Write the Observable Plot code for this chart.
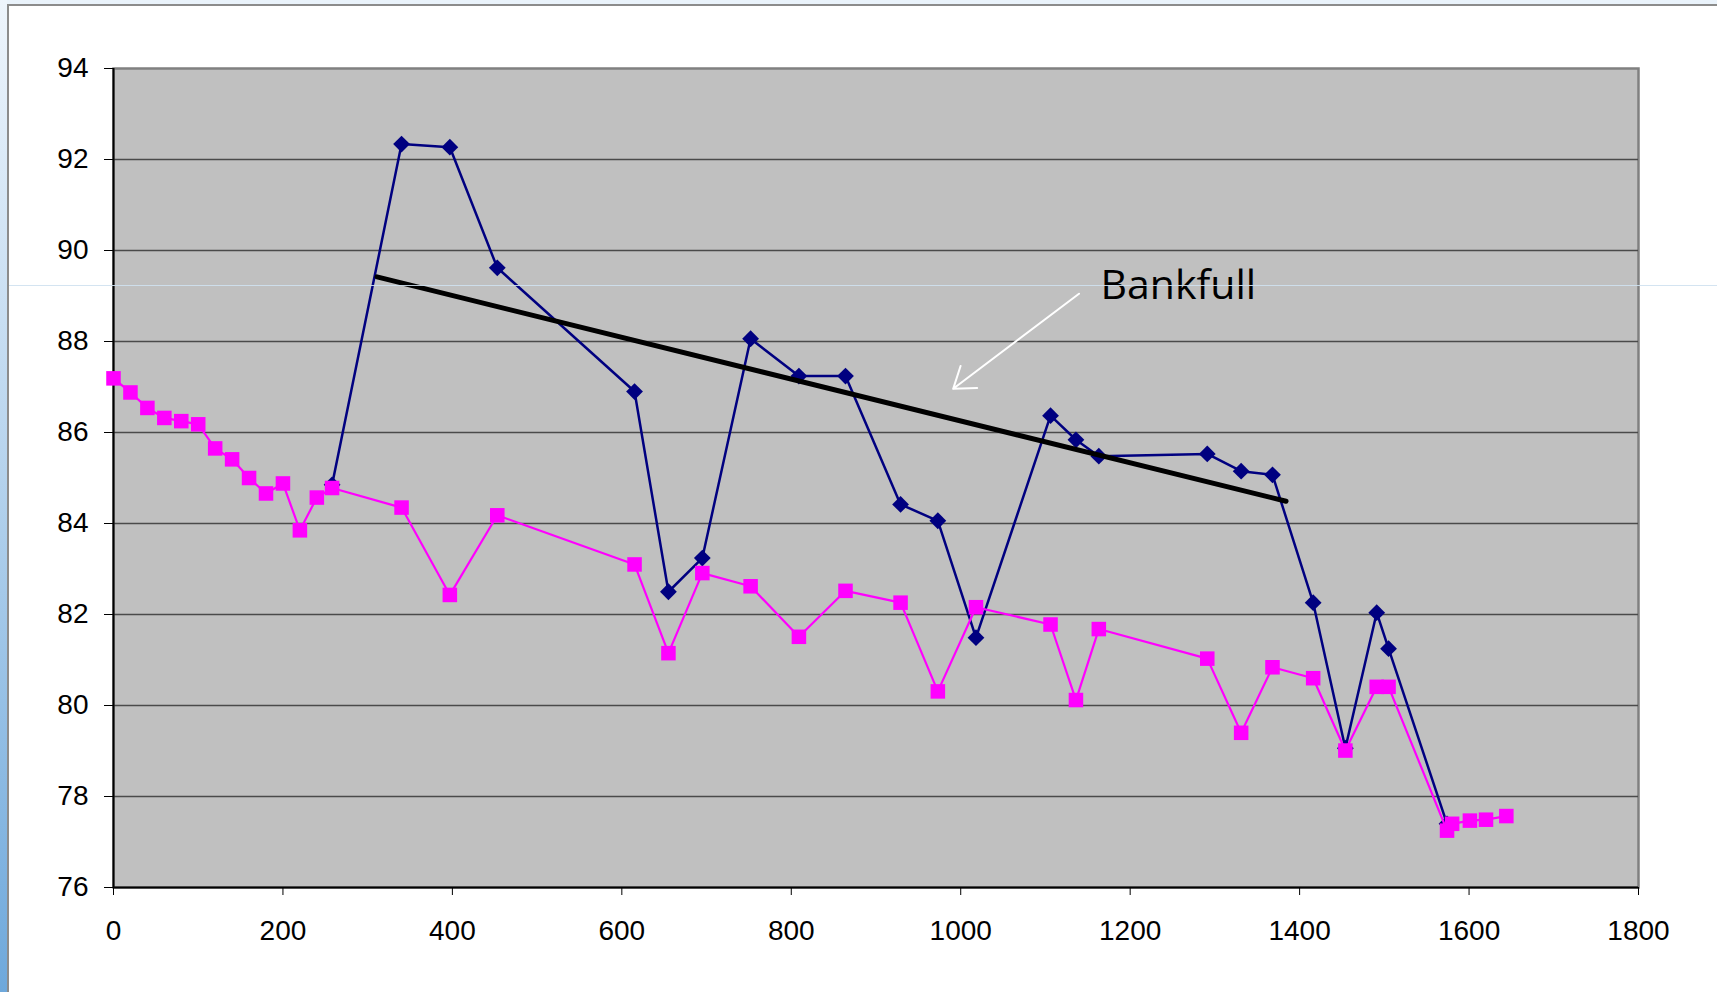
<!DOCTYPE html>
<html>
<head>
<meta charset="utf-8">
<script src="https://cdn.jsdelivr.net/npm/d3@7"></script>
<script src="https://cdn.jsdelivr.net/npm/@observablehq/plot@0.6"></script>
<style>
  html, body { margin: 0; padding: 0; background: #ffffff; overflow: hidden; }
  #wrap { position: relative; width: 1717px; height: 992px; }
  #chart { position: absolute; left: 0; top: 0; }
  .decor { position: absolute; pointer-events: none; }
</style>
</head>
<body>
<div id="wrap">
  <div id="chart"></div>
  <div class="decor" style="left:0;top:0;width:1717px;height:5px;background:#eaf3fb;"></div>
  <div class="decor" style="left:7px;top:4px;width:1710px;height:2px;background:#8c8c8c;"></div>
  <div class="decor" style="left:0;top:0;width:7px;height:992px;background:linear-gradient(to bottom,#eef5fc 0%,#b9d5ee 45%,#6ea8db 100%);"></div>
  <div class="decor" style="left:7px;top:4px;width:2px;height:988px;background:#8c8c8c;"></div>
  <div class="decor" style="left:9px;top:285px;width:1708px;height:1px;background:#cfe1ef;opacity:0.9;"></div>
</div>
<script>
// Stream profile data (station in ft, elevation in ft)
const stationBed = [0,20,40,60,80,100,120,140,160,180,200,220,240,258,340,397,453,615,655,695,752,809,864,929,973,1018,1106,1136,1163,1291,1331,1368,1416,1454,1491,1505,1574,1580,1601,1620,1644];
const elevBed = [87.19,86.88,86.54,86.32,86.25,86.18,85.65,85.41,85.0,84.66,84.88,83.85,84.57,84.78,84.35,82.43,84.18,83.1,81.15,82.91,82.62,81.51,82.52,82.26,80.31,82.16,81.78,80.12,81.68,81.03,79.4,80.84,80.6,79.01,80.41,80.41,77.25,77.4,77.47,77.49,77.57];

const stationBank = [258,340,397,453,615,655,695,752,809,864,929,973,1018,1106,1136,1163,1291,1331,1368,1416,1454,1491,1505,1574];
const elevBank = [84.85,92.34,92.27,89.62,86.9,82.5,83.24,88.06,87.24,87.24,84.42,84.06,81.49,86.37,85.84,85.48,85.53,85.15,85.07,82.26,79.06,82.04,81.25,77.4];

const bankfullStation = [311, 1384];
const bankfullElev = [89.42, 84.49];

const arrowFrom = [1139.6, 89.05];
const arrowTo = [991.1, 86.96];
const labelText = "Bankfull";
const labelPos = [1165, 89.22];

const xTicks = [0,200,400,600,800,1000,1200,1400,1600,1800];
const yTicks = [76,78,80,82,84,86,88,90,92,94];
const gridLevels = [78,80,82,84,86,88,90,92];

const bed = stationBed.map((s, i) => ({x: s, y: elevBed[i]}));
const bank = stationBank.map((s, i) => ({x: s, y: elevBank[i]}));
const bankfull = bankfullStation.map((s, i) => ({x: s, y: bankfullElev[i]}));

const diamond = {
  draw(ctx, size) {
    const r = Math.sqrt(size / 2);
    ctx.moveTo(0, -r); ctx.lineTo(r, 0); ctx.lineTo(0, r); ctx.lineTo(-r, 0); ctx.closePath();
  }
};

const chart = Plot.plot({
  width: 1717,
  height: 992,
  marginLeft: 113,
  marginRight: 79,
  marginTop: 68,
  marginBottom: 105,
  style: {background: "transparent", fontFamily: "'Liberation Sans', Arial, sans-serif", fontSize: "28px", color: "black"},
  x: {domain: [0, 1800], axis: null},
  y: {domain: [76, 94], axis: null},
  marks: [
    Plot.frame({fill: "#C0C0C0", stroke: "#808080", strokeWidth: 2.5}),
    Plot.ruleY(gridLevels, {stroke: "#4a4a4a", strokeWidth: 1.3}),
    Plot.ruleX([0], {stroke: "black", strokeWidth: 2}),
    Plot.ruleY([76], {stroke: "black", strokeWidth: 2}),
    Plot.axisY({ticks: yTicks, tickSize: 9, tickPadding: 16, fontSize: 28, tickFormat: d => String(d)}),
    Plot.axisX({ticks: xTicks, tickSize: 8, tickPadding: 25, fontSize: 28, tickFormat: d => String(d)}),
    Plot.line(bank, {x: "x", y: "y", stroke: "#000080", strokeWidth: 2.5}),
    Plot.dot(bank, {x: "x", y: "y", symbol: diamond, r: 6.7, fill: "#000080", stroke: "none"}),
    Plot.line(bankfull, {x: "x", y: "y", stroke: "black", strokeWidth: 5}),
    Plot.line(bed, {x: "x", y: "y", stroke: "#FF00FF", strokeWidth: 2.2}),
    Plot.dot(bed, {x: "x", y: "y", symbol: "square", r: 8.2, fill: "#FF00FF", stroke: "none"}),
    Plot.arrow([{x1: arrowFrom[0], y1: arrowFrom[1], x2: arrowTo[0], y2: arrowTo[1]}], {
      x1: "x1", y1: "y1", x2: "x2", y2: "y2", stroke: "white", strokeWidth: 2, headLength: 18, headAngle: 70
    }),
    Plot.text([{x: labelPos[0], y: labelPos[1], t: labelText}], {
      x: "x", y: "y", text: "t", textAnchor: "start", fontSize: 41, fontFamily: "'Open Sans', sans-serif", fill: "black"
    })
  ]
});
document.getElementById("chart").appendChild(chart);
</script>
</body>
</html>
